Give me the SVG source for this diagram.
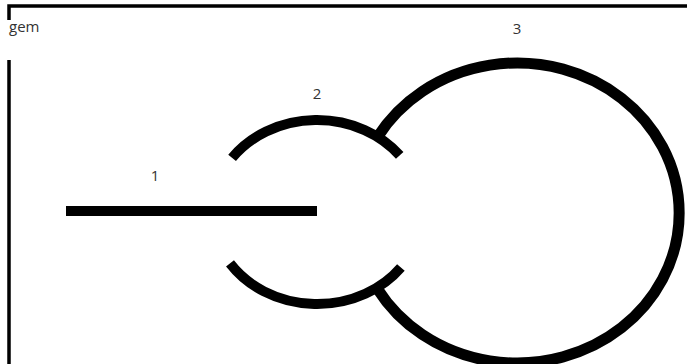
<svg xmlns="http://www.w3.org/2000/svg" width="687" height="364" viewBox="0 0 687 364">
  <style>
    .frame { fill: none; stroke: #000; stroke-width: 3.5; }
    .shape { fill: none; stroke: #000; stroke-linecap: butt; }
    .label { font-family: "Open Sans", "Liberation Sans", sans-serif; font-size: 15px; fill: #333; }
  </style>
  <rect width="687" height="364" fill="#fff"/>
  <g id="frame">
    <path class="frame" d="M 9 364 V 60 M 9 20 V 6 H 687"/>
    <text class="label" x="9" y="32">gem</text>
  </g>
  <g id="connectors">
    <g id="node-1">
      <line class="shape" x1="66" y1="211" x2="317" y2="211" stroke-width="10"/>
      <text class="label" x="155" y="181" text-anchor="middle">1</text>
    </g>
    <g id="node-2">
      <path class="shape" stroke-width="10" d="M 232.1 157.9 A 105 92 0 0 1 399.7 155.4"/>
      <path class="shape" stroke-width="10" d="M 230 263.4 A 105 92 0 0 0 400.9 267.4"/>
      <text class="label" x="317" y="99" text-anchor="middle">2</text>
    </g>
    <g id="node-3">
      <path class="shape" stroke-width="11" d="M 377.5 137 A 162 150 0 1 1 377.5 289"/>
      <text class="label" x="517" y="34" text-anchor="middle">3</text>
    </g>
  </g>
</svg>
